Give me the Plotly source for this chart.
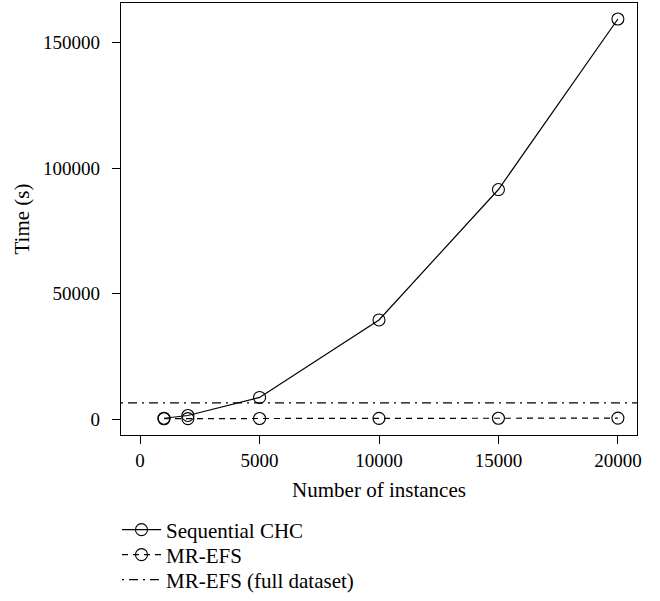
import plotly.graph_objects as go

instances = [1000, 2000, 5000, 10000, 15000, 20000]
seq_chc = [300, 1400, 8600, 39500, 91500, 159500]
mr_efs = [100, 150, 200, 250, 300, 350]
mr_efs_full = 6400
series_names = ["Sequential CHC", "MR-EFS", "MR-EFS (full dataset)"]
x_ticks = [0, 5000, 10000, 15000, 20000]
y_ticks = [0, 50000, 100000, 150000]

FONT = "Liberation Serif"
TICK_FS = 19
TITLE_FS = 21
LEG_FS = 21

# R-style 4% axis extension
x_lo, x_hi = 0, max(instances)
x_pad = 0.04 * (x_hi - x_lo)
x_range = [x_lo - x_pad, x_hi + x_pad]
y_lo, y_hi = 0, max(seq_chc)
y_pad = 0.04 * (y_hi - y_lo)
y_range = [y_lo - y_pad, y_hi + y_pad]

marker = dict(symbol="circle-open", size=12, color="black", line=dict(width=1.1, color="black"))

fig = go.Figure()
fig.add_trace(go.Scatter(x=instances, y=seq_chc, mode="lines+markers", name=series_names[0],
                         line=dict(color="black", width=1.2, dash="solid"), marker=marker,
                         legend="legend"))
fig.add_trace(go.Scatter(x=instances, y=mr_efs, mode="lines+markers", name=series_names[1],
                         line=dict(color="black", width=1.2, dash="6px,5px"), marker=marker,
                         legend="legend2"))
fig.add_trace(go.Scatter(x=x_range, y=[mr_efs_full, mr_efs_full], mode="lines", name=series_names[2],
                         line=dict(color="black", width=1.2, dash="2px,5px,9px,5px"),
                         legend="legend3"))

axis_common = dict(showline=True, linecolor="black", linewidth=1.3, mirror=True,
                   ticks="outside", ticklen=8, tickwidth=1.2, tickcolor="black",
                   showgrid=False, zeroline=False,
                   tickfont=dict(family=FONT, size=TICK_FS, color="black"))

plot_top, plot_bottom = 3, 435
plot_h = plot_bottom - plot_top
plot_l, plot_r = 121, 637
plot_w = plot_r - plot_l

def leg(center_px):
    return dict(x=-4 / plot_w, y=(plot_bottom - center_px) / plot_h,
                xanchor="left", yanchor="middle",
                font=dict(family=FONT, size=LEG_FS, color="black"),
                bgcolor="rgba(0,0,0,0)", itemwidth=39)

fig.update_layout(
    width=660, height=601,
    margin=dict(l=plot_l, r=660 - plot_r, t=plot_top, b=601 - plot_bottom, autoexpand=False),
    plot_bgcolor="white", paper_bgcolor="white",
    font=dict(family=FONT, size=TICK_FS, color="black"),
    xaxis=dict(range=x_range, tickvals=x_ticks, tickformat="d",
               title=dict(text="Number of instances", font=dict(family=FONT, size=TITLE_FS), standoff=12),
               **axis_common),
    yaxis=dict(range=y_range, tickvals=y_ticks, tickformat="d", ticklabelstandoff=8,
               title=dict(text="Time (s)", font=dict(family=FONT, size=TITLE_FS), standoff=7),
               **axis_common),
    legend=leg(530),
    legend2=leg(555),
    legend3=leg(580),
    showlegend=True,
)

fig.write_html("out.html", config={"displayModeBar": False},
               post_script="document.body.style.margin='0px';document.body.style.overflow='hidden';")
